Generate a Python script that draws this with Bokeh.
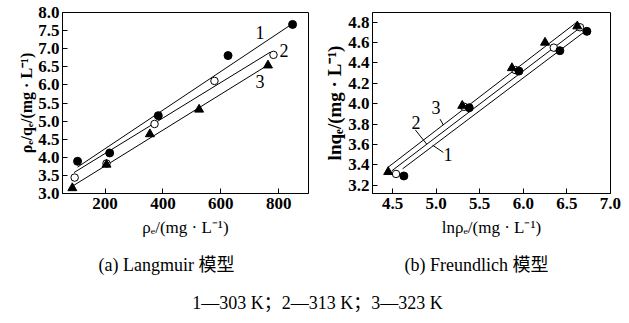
from bokeh.plotting import figure
from bokeh.layouts import column, row
from bokeh.models import Range1d, FixedTicker, NumeralTickFormatter
from bokeh.core.properties import value
from bokeh.embed import file_html
from bokeh.resources import INLINE

# ---------------- data: (a) Langmuir ----------------
la_x_303 = [105, 216, 384, 625, 848]
la_y_303 = [3.89, 4.12, 5.15, 6.81, 7.67]
la_x_313 = [95, 205, 371, 578, 782]
la_y_313 = [3.44, 3.83, 4.92, 6.11, 6.83]
la_x_323 = [87, 205, 355, 525, 763]
la_y_323 = [3.15, 3.80, 4.64, 5.32, 6.54]
# fitted lines (end points)
la_fit_x_303 = [105, 838]
la_fit_y_303 = [3.73, 7.64]
la_fit_x_313 = [93, 770]
la_fit_y_313 = [3.58, 6.90]
la_fit_x_323 = [87, 755]
la_fit_y_323 = [3.20, 6.51]
la_xticks = [200, 400, 600, 800]
la_yticks = [3.0, 3.5, 4.0, 4.5, 5.0, 5.5, 6.0, 6.5, 7.0, 7.5, 8.0]

# ---------------- data: (b) Freundlich ----------------
fr_x_303 = [4.63, 5.38, 5.95, 6.42, 6.73]
fr_y_303 = [3.29, 3.96, 4.32, 4.52, 4.71]
fr_x_313 = [4.54, 5.32, 5.91, 6.35, 6.65]
fr_y_313 = [3.31, 3.97, 4.33, 4.55, 4.75]
fr_x_323 = [4.45, 5.30, 5.87, 6.25, 6.62]
fr_y_323 = [3.33, 3.98, 4.35, 4.60, 4.76]
fr_fit_x_303 = [4.615, 6.74]
fr_fit_y_303 = [3.36, 4.73]
fr_fit_x_313 = [4.49, 6.69]
fr_fit_y_313 = [3.34, 4.77]
fr_fit_x_323 = [4.44, 6.63]
fr_fit_y_323 = [3.37, 4.81]
fr_xticks = [4.5, 5.0, 5.5, 6.0, 6.5, 7.0]
fr_yticks = [3.2, 3.4, 3.6, 3.8, 4.0, 4.2, 4.4, 4.6, 4.8]

curve_labels = ["1", "2", "3"]
captions = ["(a) Langmuir 模型", "(b) Freundlich 模型"]
legend_text = "1—303 K；2—313 K；3—323 K"

SERIF = "Liberation Serif"
SERIF_CJK = "Liberation Serif, Noto Sans CJK SC"


def style(p, xticks, yticks):
    p.grid.visible = False
    p.outline_line_color = "black"
    p.outline_line_width = 1
    p.xaxis.ticker = FixedTicker(ticks=xticks)
    p.yaxis.ticker = FixedTicker(ticks=yticks)
    p.axis.major_tick_in = 5
    p.axis.major_tick_out = 0
    p.axis.minor_tick_in = 0
    p.axis.minor_tick_out = 0
    p.axis.axis_line_color = "black"
    p.axis.major_tick_line_color = "black"
    p.axis.major_label_text_font = SERIF
    p.axis.major_label_text_font_style = "bold"
    p.axis.major_label_text_font_size = "17px"
    p.axis.major_label_text_color = "black"
    p.xaxis.major_label_standoff = 4
    p.yaxis.major_label_standoff = 3
    p.axis.axis_label_text_font = SERIF
    p.axis.axis_label_text_color = "black"
    p.xaxis.axis_label_text_font_style = "normal"
    p.xaxis.axis_label_text_font_size = "17px"
    p.xaxis.axis_label_standoff = 6
    p.yaxis.axis_label_text_font_style = "bold"
    p.yaxis.axis_label_standoff = 0


def draw(p, xs, ys, fx, fy):
    for (fxi, fyi) in zip(fx, fy):
        p.line(fxi, fyi, line_color="black", line_width=1)
    # open circles (313 K)
    p.scatter(xs[1], ys[1], marker="circle", size=7.5, fill_color="white",
              line_color="black", line_width=1)
    # triangles (323 K)
    p.scatter(xs[2], ys[2], marker="triangle", size=9, fill_color="black",
              line_color="black")
    # filled circles (303 K)
    p.scatter(xs[0], ys[0], marker="circle", size=8, fill_color="black",
              line_color="black")


# ---------------- (a) ----------------
p1 = figure(width=320, height=245, x_range=Range1d(53, 903), y_range=Range1d(3.0, 8.0),
            output_backend="svg", toolbar_location=None,
            min_border_left=62, min_border_right=12, min_border_top=12, min_border_bottom=52)
style(p1, la_xticks, la_yticks)
p1.yaxis.formatter = NumeralTickFormatter(format="0.0")
p1.xaxis.axis_label = "ρₑ/(mg · L⁻¹)"
p1.yaxis.axis_label = "ρₑ/qₑ/(mg · L⁻¹)"
p1.yaxis.axis_label_text_font_size = "16px"
draw(p1, [la_x_303, la_x_313, la_x_323], [la_y_303, la_y_313, la_y_323],
     [la_fit_x_303, la_fit_x_313, la_fit_x_323], [la_fit_y_303, la_fit_y_313, la_fit_y_323])
p1.text(x=[735, 818, 735], y=[7.45, 6.95, 6.09], text=curve_labels,
        text_font=value(SERIF), text_font_size="18px", text_color="black",
        text_align="center", text_baseline="middle")

# ---------------- (b) ----------------
p2 = figure(width=305, height=245, x_range=Range1d(4.27, 7.001), y_range=Range1d(3.118, 4.895),
            output_backend="svg", toolbar_location=None,
            min_border_left=52, min_border_right=15, min_border_top=7, min_border_bottom=52)
style(p2, fr_xticks, fr_yticks)
p2.xaxis.formatter = NumeralTickFormatter(format="0.0")
p2.yaxis.formatter = NumeralTickFormatter(format="0.0")
p2.xaxis.axis_label = "lnρₑ/(mg · L⁻¹)"
p2.yaxis.axis_label = "lnqₑ/(mg · L⁻¹)"
p2.yaxis.axis_label_text_font_size = "19px"
draw(p2, [fr_x_303, fr_x_313, fr_x_323], [fr_y_303, fr_y_313, fr_y_323],
     [fr_fit_x_303, fr_fit_x_313, fr_fit_x_323], [fr_fit_y_303, fr_fit_y_313, fr_fit_y_323])
# leader lines for curve labels: 1, 2, 3
p2.segment(x0=[5.083, 4.761, 5.045], y0=[3.521, 3.743, 3.848],
           x1=[4.96, 4.891, 5.083], y1=[3.592, 3.604, 3.790],
           line_color="black", line_width=1)
p2.text(x=[5.135, 4.769, 4.999], y=[3.499, 3.816, 3.966], text=curve_labels,
        text_font=value(SERIF), text_font_size="18px", text_color="black",
        text_align="center", text_baseline="middle")

# ---------------- captions ----------------
p3 = figure(width=625, height=78, x_range=Range1d(0, 625), y_range=Range1d(78, 0),
            output_backend="svg", toolbar_location=None, x_axis_type=None, y_axis_type=None,
            min_border=0)
p3.outline_line_color = None
p3.grid.visible = False
p3.text(x=[166, 476], y=[19, 19], text=captions,
        text_font=value(SERIF_CJK), text_font_size="18px", text_color="black",
        text_align="center", text_baseline="middle")
p3.text(x=[317], y=[57], text=[legend_text],
        text_font=value(SERIF_CJK), text_font_size="18px", text_color="black",
        text_align="center", text_baseline="middle")

layout = column(row(p1, p2), p3)
open("out.html", "w").write(file_html(layout, INLINE))
